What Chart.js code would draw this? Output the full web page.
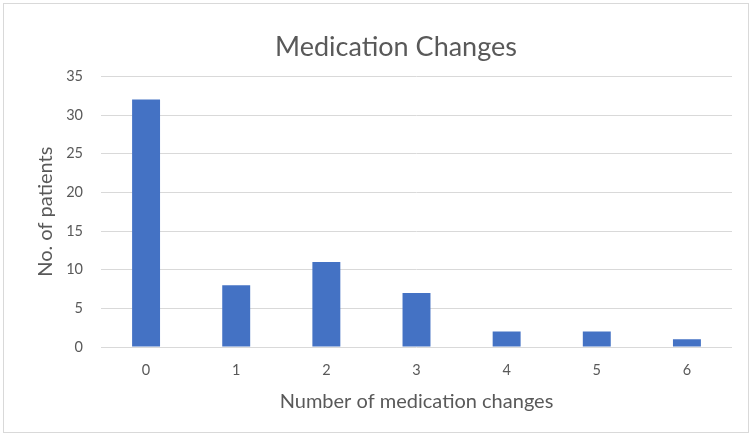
<!DOCTYPE html>
<html>
<head>
<meta charset="utf-8">
<script src="https://cdn.jsdelivr.net/npm/chart.js@4"></script>
<style>
  body { margin: 0; background: #fff; }
  #frame {
    position: absolute; left: 3px; top: 3px;
    width: 744px; height: 428px;
    border: 1px solid #d9d9d9;
  }
</style>
</head>
<body>
<div id="frame"><canvas id="chart" width="744" height="428"></canvas></div>
<script>
const changes = ['0', '1', '2', '3', '4', '5', '6'];
const patients = [32, 8, 11, 7, 2, 2, 1];
const yTicks = [0, 5, 10, 15, 20, 25, 30, 35];

const textColor = '#595959';
const fontFamily = 'Lato, "Open Sans", sans-serif';

// the title sits a bit right of the canvas middle, nudge its box after layout
const titleShift = {
    id: 'titleShift',
    afterLayout(chart){
        const t = chart.titleBlock;
        if(!t) return;
        t.left += 28;
        t.right += 28;
    }
};

new Chart(document.getElementById('chart'), {
    type: 'bar',
    data: {
        labels: changes,
        datasets: [{
            data: patients,
            backgroundColor: '#4472c4',
            borderWidth: 0,
            categoryPercentage: 1,
            barPercentage: 0.31
        }]
    },
    options: {
        responsive: false,
        animation: false,
        layout: { padding: { left: 0, right: 16, top: 0, bottom: 0 } },
        plugins: {
            legend: { display: false },
            tooltip: { enabled: false },
            title: {
                display: true,
                text: 'Medication Changes',
                color: textColor,
                font: { family: fontFamily, size: 27, weight: 'normal' },
                padding: { top: 27, bottom: 13 }
            }
        },
        scales: {
            x: {
                grid: { display: false, drawTicks: false },
                border: { display: false },
                ticks: { color: textColor, font: { family: fontFamily, size: 14.5 }, padding: 15 },
                title: {
                    display: true,
                    text: 'Number of medication changes',
                    color: textColor,
                    font: { family: fontFamily, size: 20 },
                    padding: { top: 0, bottom: 18 }
                },
                afterFit(s){ s.height = 85; }
            },
            y: {
                min: 0,
                max: 35,
                afterBuildTicks(s){ s.ticks = yTicks.map(v => ({ value: v })); },
                grid: { color: '#d9d9d9', lineWidth: 1, drawTicks: false },
                border: { display: false },
                ticks: { color: textColor, font: { family: fontFamily, size: 14.5 }, padding: 18 },
                title: {
                    display: true,
                    text: 'No. of patients',
                    color: textColor,
                    font: { family: fontFamily, size: 20 },
                    padding: { top: 30, bottom: 0 }
                },
                afterFit(s){ s.width = 97; }
            }
        }
    },
    plugins: [titleShift]
});
</script>
</body>
</html>
